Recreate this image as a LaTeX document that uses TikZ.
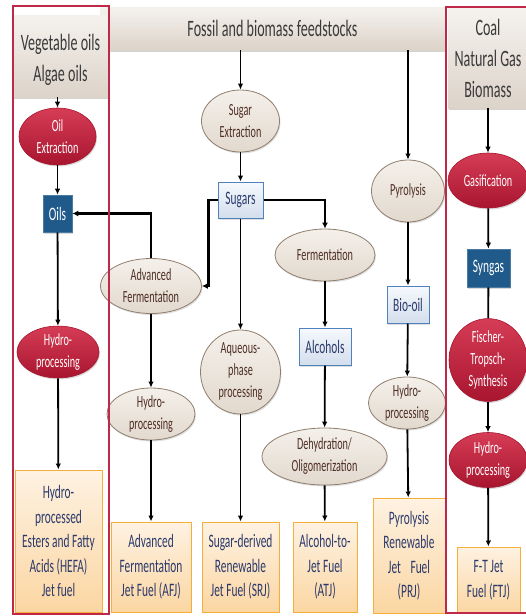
\documentclass[tikz,border=0pt]{standalone}
\usepackage{fontspec}
\setmainfont{Carlito}[FakeStretch=0.6]
\usetikzlibrary{shapes.geometric,arrows.meta,shadows}

\definecolor{framered}{HTML}{C0284A}
\definecolor{hdrtop}{HTML}{F5F2EE}
\definecolor{hdrbot}{HTML}{DCD3C9}
\definecolor{hdrtext}{HTML}{3A3A3A}
\definecolor{proctop}{HTML}{F4F0EA}
\definecolor{procbot}{HTML}{E2D9CE}
\definecolor{procline}{HTML}{8F7E6E}
\definecolor{proctext}{HTML}{4E2E24}
\definecolor{redtop}{HTML}{D63C55}
\definecolor{redbot}{HTML}{A8152F}
\definecolor{darkblue}{HTML}{1F5A8A}
\definecolor{lbtop}{HTML}{F6F9FD}
\definecolor{lbbot}{HTML}{D3DEEC}
\definecolor{lbline}{HTML}{4F81BD}
\definecolor{navytext}{HTML}{2B3A6C}
\definecolor{fueltop}{HTML}{FEF2E2}
\definecolor{fuelbot}{HTML}{FBD6A2}
\definecolor{fuelline}{HTML}{F6AE3A}

\begin{document}
\begin{tikzpicture}[x=1pt,y=-1pt,
  hdr/.style={rectangle, draw=none, top color=hdrtop, bottom color=hdrbot, text=hdrtext, align=center, inner sep=0pt,
    font=\fontsize{23.5}{31}\selectfont, drop shadow={shadow xshift=1pt, shadow yshift=-2pt, opacity=0.35}},
  proc/.style={ellipse, draw=procline, line width=0.8pt, top color=proctop, bottom color=procbot, text=proctext,
    align=center, inner sep=0pt, font=\fontsize{17}{22}\selectfont, drop shadow={shadow xshift=1pt, shadow yshift=-1.5pt, opacity=0.25}},
  redproc/.style={ellipse, draw=redbot, line width=0.6pt, top color=redtop, bottom color=redbot, text=white,
    align=center, inner sep=0pt, font=\fontsize{17}{22}\selectfont, drop shadow={shadow xshift=1pt, shadow yshift=-1.5pt, opacity=0.3}},
  darkbox/.style={rectangle, draw=darkblue!80!white, line width=0.6pt, fill=darkblue, text=white, inner sep=0pt,
    font=\fontsize{19}{24}\selectfont, drop shadow={shadow xshift=1pt, shadow yshift=-1.5pt, opacity=0.3}},
  lightbox/.style={rectangle, draw=lbline, line width=1pt, top color=lbtop, bottom color=lbbot, text=navytext, inner sep=0pt,
    font=\fontsize{19}{24}\selectfont, drop shadow={shadow xshift=1pt, shadow yshift=-1.5pt, opacity=0.25}},
  fuel/.style={rectangle, draw=fuelline, line width=1pt, top color=fueltop, bottom color=fuelbot, text=navytext,
    align=center, inner sep=0pt, font=\fontsize{19}{24.5}\selectfont},
  arr/.style={black, line width=1.8pt, -{Latex[length=6pt,width=5.5pt]}},
  fat/.style={black, line width=2.8pt, -{Latex[length=6pt,width=6pt]}},
  frm/.style={draw=framered, line width=2.6pt}
]
\useasboundingbox (0,0) rectangle (525,616);

% Kopfzeilen
\node[hdr, minimum width=345pt, minimum height=43pt] (feed) at (272.5,28.5) {Fossil and biomass feedstocks};
\node[hdr, minimum width=95pt, minimum height=82pt] (veg) at (60.5,56) {};
\node[text=hdrtext, align=center, inner sep=0pt, font=\fontsize{23.5}{31}\selectfont] (vegtxt) at ([yshift=-4pt]veg.center) {Vegetable oils\\Algae oils};
\node[hdr, minimum width=80pt, minimum height=100pt] (coal) at (488,58) {Coal\\Natural Gas\\Biomass};

% HEFA
\node[redproc, minimum width=77pt, minimum height=57pt] (oilx) at (57.5,136.5) {Oil\\Extraction};
\node[darkbox, minimum width=29pt, minimum height=37pt] (oils) at (57.5,213.5) {Oils};
\node[redproc, minimum width=82pt, minimum height=51pt] (hydroA) at (58,352) {Hydro-\\processing};
\node[fuel, minimum width=87pt, minimum height=142pt] (hefa) at (58.5,541) {Hydro-\\processed\\Esters and Fatty\\Acids (HEFA)\\Jet fuel};

% Zucker
\node[proc, minimum width=78pt, minimum height=62pt] (sugx) at (240.5,121) {Sugar\\Extraction};
\node[lightbox, minimum width=45pt, minimum height=36pt] (sugars) at (240.5,200) {Sugars};
\node[proc, minimum width=101pt, minimum height=55pt] (advf) at (151,286) {Advanced\\Fermentation};
\node[proc, minimum width=88pt, minimum height=52pt] (hydroB) at (151,414) {Hydro-\\processing};
\node[fuel, minimum width=80pt, minimum height=90pt] (afj) at (151,567) {Advanced\\Fermentation\\Jet Fuel (AFJ)};
\node[proc, minimum width=80pt, minimum height=84pt] (aqua) at (240.5,372) {Aqueous-\\phase\\processing};
\node[fuel, minimum width=77pt, minimum height=90pt] (srj) at (240.5,567) {Sugar-derived\\Renewable\\Jet Fuel (SRJ)};
\node[proc, minimum width=100pt, minimum height=52pt] (ferm) at (325,255) {Fermentation};
\node[lightbox, minimum width=52pt, minimum height=37pt] (alc) at (325,346.5) {Alcohols};
\node[proc, minimum width=125pt, minimum height=57pt] (dehy) at (324.5,456.5) {Dehydration/\\Oligomerization};
\node[fuel, minimum width=64pt, minimum height=90pt] (atj) at (325,567) {Alcohol-to-\\Jet Fuel\\(ATJ)};

% Pyrolyse
\node[proc, minimum width=73pt, minimum height=62pt] (pyro) at (408,191) {Pyrolysis};
\node[lightbox, minimum width=42pt, minimum height=37pt] (biooil) at (408,304.5) {Bio-oil};
\node[proc, minimum width=77pt, minimum height=52pt] (hydroC) at (407,403) {Hydro-\\processing};
\node[fuel, minimum width=72pt, minimum height=115pt] (prj) at (409,555.5) {Pyrolysis\\Renewable\\Jet\enspace Fuel\\(PRJ)};

% Fischer-Tropsch
\node[redproc, minimum width=80pt, minimum height=55pt] (gasi) at (488,180.5) {Gasification};
\node[darkbox, minimum width=43pt, minimum height=38pt] (syngas) at (488.5,268) {Syngas};
\node[redproc, minimum width=78pt, minimum height=74pt] (fts) at (488,360) {Fischer-\\Tropsch-\\Synthesis};
\node[redproc, minimum width=78pt, minimum height=55pt] (hydroD) at (488,460) {Hydro-\\processing};
\node[fuel, minimum width=63pt, minimum height=66pt] (ftj) at (488.5,580) {F-T Jet\\Fuel (FTJ)};

% Pfeile
\draw[arr] (oilx |- veg.south) -- (oilx);
\draw[arr] (oilx) -- (oils);
\draw[arr] (oils) -- (hydroA);
\draw[arr] (hydroA) -- (hefa);

\draw[arr] (sugx |- feed.south) -- (sugx);
\draw[arr] (sugx) -- (sugars);
\draw[fat] (sugars.west) -- ++(-9,0) |- (advf.east);
\draw[fat] (sugars.east) -| (ferm.north);
\draw[fat] (advf.north) |- (oils.east);
\draw[arr] (advf) -- (hydroB);
\draw[arr] (hydroB) -- (afj);
\draw[arr] (sugars) -- (aqua);
\draw[arr] (aqua) -- (srj);
\draw[arr] (ferm) -- (alc);
\draw[arr] (alc) -- (dehy);
\draw[arr] (dehy) -- (atj);

\draw[arr] (pyro |- feed.south) -- (pyro);
\draw[arr] (pyro) -- (biooil);
\draw[arr] (biooil) -- (hydroC);
\draw[arr] (hydroC) -- (prj);

\draw[arr] (gasi |- coal.south) -- (gasi);
\draw[arr] (gasi) -- (syngas);
\draw[black, line width=1.8pt] (syngas) -- (fts);
\draw[arr] (fts) -- (hydroD);
\draw[arr] (hydroD) -- (ftj);

% rote Rahmen
\draw[frm] (13,6) rectangle (109,614);
\draw[frm] (446,7) rectangle (540,613);
\end{tikzpicture}
\end{document}
